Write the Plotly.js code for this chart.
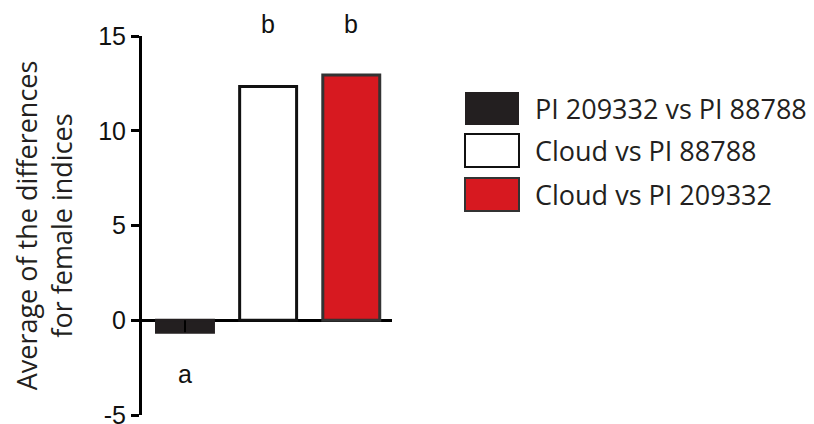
<!DOCTYPE html>
<html>
<head>
<meta charset="utf-8">
<script src="https://cdn.plot.ly/plotly-3.0.1.min.js"></script>
<style>
  html, body { margin: 0; padding: 0; background: #fff; }
  #chart { width: 814px; height: 424px; }
</style>
</head>
<body>
<div id="chart"></div>
<script>
// Comparison groups and their mean differences in female indices
const groups = ['PI 209332 vs PI 88788', 'Cloud vs PI 88788', 'Cloud vs PI 209332'];
const meanDiff = [-0.63, 12.34, 12.94];
const errUp = [0.63, 0, 0];
const letters = ['a', 'b', 'b'];
const letterY = [-2.85, 15.65, 15.65];
const fillColors = ['#231f20', '#ffffff', '#d71920'];
const lineColors = ['#231f20', '#111111', '#333333'];
const yTicks = [-5, 0, 5, 10, 15];

const W = 814, H = 424;
const M = { l: 142, r: 422, t: 36, b: 9 };
const plotW = W - M.l - M.r, plotH = H - M.t - M.b;
const yMin = -5, yMax = 15;
const xMin = -0.517, xMax = 2.49;
const px = x => (x - M.l) / plotW;
const py = y => (H - M.b - y) / plotH;
// data -> paper fractions, for labels that sit outside the axis range
const dx = v => (v - xMin) / (xMax - xMin);
const dy = v => (v - yMin) / (yMax - yMin);

const xIdx = groups.map((_, i) => i);

const traces = [{
  type: 'bar',
  x: xIdx,
  y: meanDiff,
  width: 0.685,
  marker: { color: fillColors, line: { color: lineColors, width: 3 } },
  error_y: { type: 'data', symmetric: false, array: errUp,
             arrayminus: [0, 0, 0], color: '#000', thickness: 2, width: 0 },
  showlegend: false,
  hoverinfo: 'skip'
}];

const annotations = letters.map((t, i) => ({
  x: dx(xIdx[i]), y: dy(letterY[i]), xref: 'paper', yref: 'paper', text: t,
  xanchor: 'center', yanchor: 'middle',
  showarrow: false, font: { family: 'Liberation Sans, Arial', size: 25, color: '#111' }
}));

// Legend drawn as swatches with text beside them
const rowTop = [92, 134, 178];
const shapes = [];
groups.forEach((g, i) => {
  shapes.push({
    type: 'rect', xref: 'paper', yref: 'paper',
    x0: px(465), x1: px(519), y0: py(rowTop[i]), y1: py(rowTop[i] + 33),
    fillcolor: fillColors[i],
    line: { color: i === 0 ? fillColors[0] : lineColors[i], width: i === 0 ? 0 : 2 }
  });
  annotations.push({
    xref: 'paper', yref: 'paper', x: px(533), y: py(rowTop[i] + 16.5),
    xanchor: 'left', yanchor: 'middle', text: g, showarrow: false,
    font: { family: 'Open Sans', size: 27, color: '#231f20' }
  });
});

const layout = {
  width: W, height: H,
  margin: M,
  paper_bgcolor: '#fff', plot_bgcolor: '#fff',
  showlegend: false,
  bargap: 0,
  xaxis: {
    range: [xMin, xMax], showticklabels: false, ticks: '',
    showgrid: false, zeroline: false, showline: false, fixedrange: true
  },
  yaxis: {
    range: [yMin, yMax], tickvals: yTicks, ticktext: yTicks.map(String),
    ticks: 'outside', ticklen: 8, tickwidth: 3, tickcolor: '#000',
    showline: true, linewidth: 3, linecolor: '#000',
    showgrid: false, zeroline: true, zerolinecolor: '#000', zerolinewidth: 3,
    ticklabeloverflow: 'allow',
    tickfont: { family: 'Liberation Sans, Arial', size: 25, color: '#111' },
    title: { text: 'Average of the differences<br>for female indices',
             font: { family: 'Open Sans', size: 27, color: '#231f20' }, standoff: 18 },
    fixedrange: true
  },
  annotations: annotations,
  shapes: shapes
};

Plotly.newPlot('chart', traces, layout, { displayModeBar: false, staticPlot: true });
</script>
</body>
</html>
